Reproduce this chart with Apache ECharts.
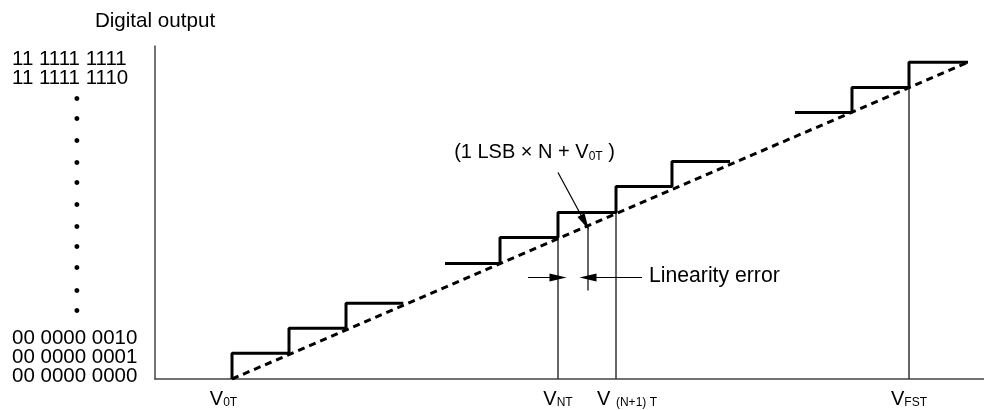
<!DOCTYPE html>
<html><head><meta charset="utf-8">
<script src="https://cdn.jsdelivr.net/npm/echarts@6/dist/echarts.min.js"></script>
<style>html,body{margin:0;padding:0;background:#fff}#c{width:984px;height:410px}</style>
</head><body><div id="c"></div>
<script>
// x: input voltage in LSB steps measured from V0T ; y: output code level
const lowEdges = [0, 1, 2, 3.005];
const lowLevels = [1.016, 2.0, 2.98];
const lowStart = 0;
const midEdges = [3.737, 4.702, 5.719, 6.737, 7.719, 8.737];
const midLevels = [4.547, 5.571, 6.555, 7.579, 8.563];
const highEdges = [9.877, 10.877, 11.877, 12.912];
const highLevels = [10.49, 11.48, 12.47];
const idealLine = [[0, 0], [12.95, 12.51]];

const xTickValues = [0, 5.719, 6.737, 11.877];
const xTickNames = ['V0T', 'VNT', 'V(N+1)T', 'VFST'];

const yLabelValues = [12.60, 11.85, 11.0, 10.18, 9.31, 8.48, 7.66, 6.79, 5.96, 5.14, 4.31, 3.44, 2.62, 1.59, 0.85, 0.10];
const yLabelTexts = ['11 1111 1111', '11 1111 1110', '•', '•', '•', '•', '•', '•', '•', '•', '•', '•', '•',
  '00 0000 0010', '00 0000 0001', '00 0000 0000'];

const guideLines = [
  [[5.719, 0], [5.719, 5.571]],
  [[6.737, 0], [6.737, 6.555]],
  [[11.877, 0], [11.877, 11.48]],
  [[6.246, 3.48], [6.246, 6.04]]
];
const pointerArrow = [[5.719, 8.13], [6.193, 6.16]];
const errorArrows = [
  [[5.193, 4.0], [5.719, 4.0]],
  [[7.193, 4.0], [6.246, 4.0]]
];
const annotationPos = [5.307, 8.917];
const errorLabelPos = [7.316, 4.035];

const FONT = '"Liberation Sans", Arial, Helvetica, sans-serif';

function stairs(edges, levels, start) {
  const pts = [];
  if (start !== undefined) pts.push([edges[0], start]);
  for (let k = 0; k < levels.length; k++) {
    pts.push([edges[k], levels[k]]);
    pts.push([edges[k + 1], levels[k]]);
  }
  return pts;
}

function nearestIndex(arr, v) {
  let best = 0;
  for (let i = 1; i < arr.length; i++) if (Math.abs(arr[i] - v) < Math.abs(arr[best] - v)) best = i;
  return best;
}

const xRich = {
  v: { fontSize: 20, lineHeight: 20, verticalAlign: 'bottom', color: '#000', fontFamily: FONT },
  s: { fontSize: 12, lineHeight: 12, verticalAlign: 'bottom', color: '#000', fontFamily: FONT },
  gl: { width: 17, fontSize: 12 },
  gr: { width: 22, fontSize: 12 }
};
function xLabel(name) {
  if (name === 'V0T') return '{v|V}{s|0T}{gl| }';
  if (name === 'VNT') return '{v|V}{s|NT}';
  if (name === 'V(N+1)T') return '{gr| }{v|V }{s|(N+1) T}';
  if (name === 'VFST') return '{v|V}{s|FST}';
  return name;
}

// split the code labels over two left axes so neighbouring labels are never auto-hidden
const yValuesA = yLabelValues.filter((v, i) => i !== 1 && i !== yLabelValues.length - 2);
const yValuesB = [yLabelValues[1], yLabelValues[yLabelValues.length - 2]];

function codeAxis(values, withLine) {
  return {
    type: 'value', min: 0, max: 13.11, position: 'left', offset: 0,
    name: withLine ? 'Digital output' : '',
    nameLocation: 'end',
    nameGap: 14,
    nameTextStyle: { fontSize: 20.6, color: '#000', fontFamily: FONT },
    axisLine: { show: withLine, onZero: false, lineStyle: { color: '#444', width: 1.5 } },
    axisTick: { show: false },
    splitLine: { show: false },
    axisLabel: {
      customValues: values,
      showMinLabel: true, showMaxLabel: true,
      hideOverlap: false,
      align: 'left',
      margin: 143,
      fontSize: 20.5,
      color: '#000',
      fontFamily: FONT,
      formatter: function (v) {
        const t = yLabelTexts[nearestIndex(yLabelValues, v)];
        return t === '•' ? '{d|•}' : t;
      },
      rich: { d: { width: 130, align: 'center', fontSize: 18, color: '#000' } }
    }
  };
}

const stepStyle = { color: '#000', width: 3 };
const chart = echarts.init(document.getElementById('c'), null, { renderer: 'canvas' });
chart.setOption({
  animation: false,
  backgroundColor: '#fff',
  textStyle: { fontFamily: FONT },
  grid: { left: 155, right: 0, top: 46, bottom: 31, containLabel: false },
  xAxis: {
    type: 'value', min: -1.351, max: 13.193,
    axisLine: { show: true, onZero: false, lineStyle: { color: '#444', width: 1.5 } },
    axisTick: { show: false },
    splitLine: { show: false },
    axisLabel: {
      customValues: xTickValues,
      margin: 10,
      showMinLabel: true, showMaxLabel: true,
      formatter: function (v) { return xLabel(xTickNames[nearestIndex(xTickValues, v)]); },
      rich: xRich
    }
  },
  yAxis: [codeAxis(yValuesA, true), codeAxis(yValuesB, false)],
  series: [
    { type: 'line', data: idealLine, symbol: 'none', silent: true,
      lineStyle: { color: '#000', width: 3, type: [7, 5] }, z: 2 },
    { type: 'line', data: stairs(lowEdges, lowLevels, lowStart), symbol: 'none', silent: true, lineStyle: stepStyle, z: 3 },
    { type: 'line', data: stairs(midEdges, midLevels), symbol: 'none', silent: true, lineStyle: stepStyle, z: 3 },
    { type: 'line', data: stairs(highEdges, highLevels), symbol: 'none', silent: true, lineStyle: stepStyle, z: 3 },
    { type: 'lines', coordinateSystem: 'cartesian2d', silent: true, z: 1,
      lineStyle: { color: '#333', width: 1.5, opacity: 1, curveness: 0 },
      data: guideLines.map(c => ({ coords: c })) },
    { type: 'lines', coordinateSystem: 'cartesian2d', silent: true, z: 4,
      symbol: ['none', 'triangle'], symbolSize: [[8, 17], [8, 17]],
      symbolOffset: [[0, 0], [0, 8]],
      lineStyle: { color: '#000', width: 1.2, opacity: 1, curveness: 0 },
      itemStyle: { color: '#000' },
      data: [{ coords: pointerArrow }].concat(errorArrows.map(c => ({ coords: c }))) },
    { type: 'scatter', silent: true, symbolSize: 1, itemStyle: { color: 'rgba(0,0,0,0)', opacity: 1 }, z: 5,
      data: [
        { value: annotationPos, label: { show: true, position: 'inside', align: 'center', verticalAlign: 'middle', opacity: 1,
            formatter: '{a|(1 LSB × N + V}{s|0T}{a| )}',
            rich: {
              a: { fontSize: 20, lineHeight: 20, verticalAlign: 'bottom', color: '#000', fontFamily: FONT },
              s: { fontSize: 12, lineHeight: 12, verticalAlign: 'bottom', color: '#000', fontFamily: FONT }
            } } },
        { value: errorLabelPos, label: { show: true, position: 'inside', align: 'left', verticalAlign: 'middle', opacity: 1,
            formatter: 'Linearity error', fontSize: 21.2, color: '#000', fontFamily: FONT } }
      ] }
  ]
});
</script></body></html>
